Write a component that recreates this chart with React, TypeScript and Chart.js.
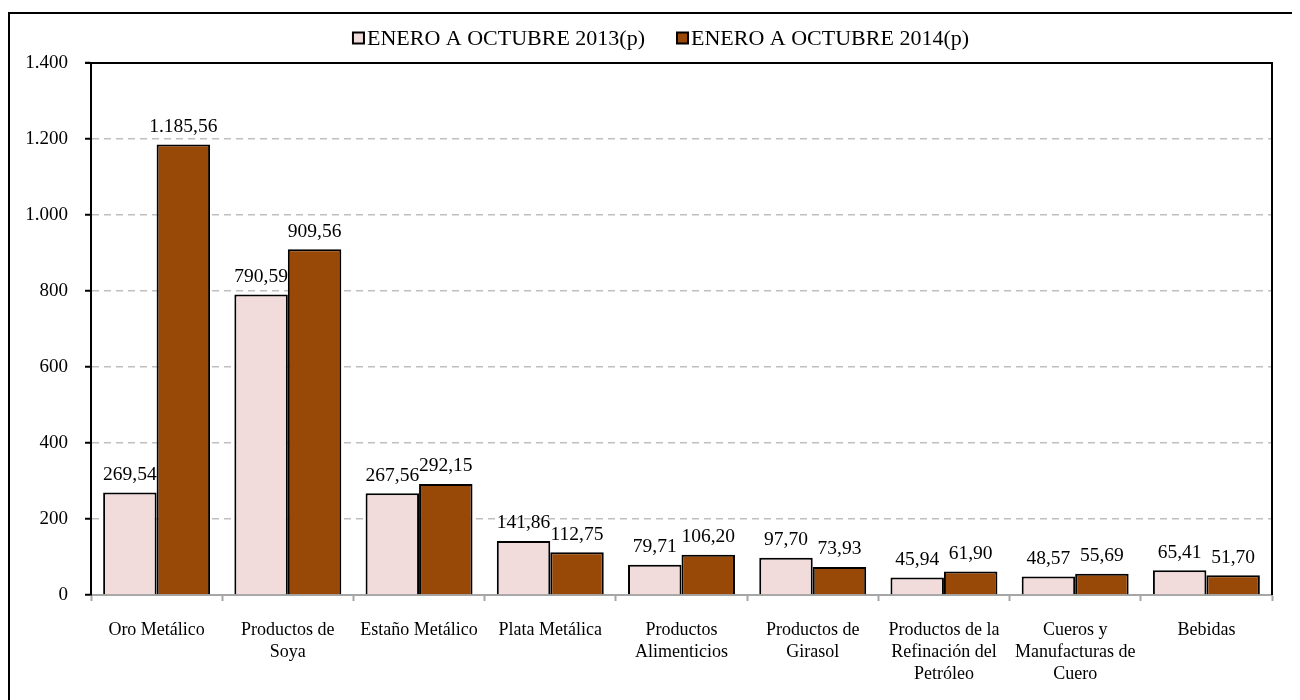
import React, { useEffect, useRef } from "react";
import { Chart, registerables } from "chart.js";

Chart.register(...registerables);

const categories: (string | string[])[] = [
  "Oro Metálico",
  ["Productos de", "Soya"],
  "Estaño Metálico",
  "Plata Metálica",
  ["Productos", "Alimenticios"],
  ["Productos de", "Girasol"],
  ["Productos de la", "Refinación del", "Petróleo"],
  ["Cueros y", "Manufacturas de", "Cuero"],
  "Bebidas",
];
const series2013Label = "ENERO A OCTUBRE 2013(p)";
const series2014Label = "ENERO A OCTUBRE 2014(p)";
const values2013 = [269.54, 790.59, 267.56, 141.86, 79.71, 97.7, 45.94, 48.57, 65.41];
const values2014 = [1185.56, 909.56, 292.15, 112.75, 106.2, 73.93, 61.9, 55.69, 51.7];
const yMax = 1400;
const yStep = 200;

const FONT = "'Liberation Serif', 'DejaVu Serif', serif";

function fmtThousands(intPart: string): string {
  return intPart.replace(/\B(?=(\d{3})+(?!\d))/g, ".");
}
function fmtValue(v: number): string {
  const [i, d] = v.toFixed(2).split(".");
  return fmtThousands(i) + "," + d;
}

const customPlugin = {
  id: "customDraw",
  afterDatasetsDraw(chart: any) {
    const ctx = chart.ctx;
    ctx.save();
    ctx.font = `19.5px ${FONT}`;
    ctx.fillStyle = "#000";
    ctx.textAlign = "center";
    ctx.textBaseline = "bottom";
    chart.data.datasets.forEach((ds: any, di: number) => {
      const meta = chart.getDatasetMeta(di);
      meta.data.forEach((bar: any, i: number) => {
        ctx.fillText(fmtValue(ds.data[i]), bar.x, bar.y - 8);
      });
    });
    ctx.restore();
  },
  afterDraw(chart: any) {
    const ctx = chart.ctx;
    const area = chart.chartArea;
    ctx.save();
    ctx.strokeStyle = "#000";
    ctx.lineWidth = 2;
    ctx.setLineDash([]);
    ctx.beginPath();
    ctx.moveTo(area.left - 6, area.top);
    ctx.lineTo(area.right, area.top);
    ctx.lineTo(area.right, area.bottom);
    ctx.stroke();
    // legend
    ctx.font = `22px ${FONT}`;
    ctx.textBaseline = "middle";
    ctx.textAlign = "left";
    const items = chart.data.datasets.map((d: any) => ({
      label: d.label,
      color: d.backgroundColor,
    }));
    const box = 11;
    const gapBoxText = 3;
    const gapItems = 32;
    const widths = items.map((it: any) => box + gapBoxText + ctx.measureText(it.label).width);
    const total = widths.reduce((a: number, b: number) => a + b, 0) + gapItems * (items.length - 1);
    const centerX = 651;
    const cy = 24;
    let x = centerX - total / 2;
    items.forEach((it: any, i: number) => {
      ctx.fillStyle = it.color;
      ctx.fillRect(x, cy - box / 2, box, box);
      ctx.strokeStyle = "#000";
      ctx.lineWidth = 2;
      ctx.strokeRect(x, cy - box / 2, box, box);
      ctx.fillStyle = "#000";
      ctx.fillText(it.label, x + box + gapBoxText, cy + 1);
      x += widths[i] + gapItems;
    });
    ctx.restore();
  },
};

export default function App() {
  const canvasRef = useRef<HTMLCanvasElement | null>(null);

  useEffect(() => {
    if (!canvasRef.current) return;
    document.body.style.overflow = "hidden";
    const chart = new Chart(canvasRef.current, {
      type: "bar",
      data: {
        labels: categories,
        datasets: [
          {
            label: series2013Label,
            data: values2013,
            backgroundColor: "#F2DCDB",
            borderColor: "#000",
            borderWidth: 2,
            categoryPercentage: 0.815,
            barPercentage: 1.0,
          },
          {
            label: series2014Label,
            data: values2014,
            backgroundColor: "#984807",
            borderColor: "#000",
            borderWidth: 2,
            categoryPercentage: 0.815,
            barPercentage: 1.0,
          },
        ],
      },
      options: {
        animation: false,
        responsive: false,
        maintainAspectRatio: false,
        layout: { padding: { top: 49, right: 20, left: 0, bottom: 0 } },
        plugins: {
          legend: { display: false },
          tooltip: { enabled: false },
        },
        scales: {
          x: {
            offset: true,
            grid: {
              offset: true,
              drawOnChartArea: false,
              drawTicks: true,
              tickLength: 6,
              tickColor: "#A6A6A6",
              tickWidth: 2,
            },
            border: { display: true, color: "#A6A6A6", width: 2 },
            ticks: {
              color: "#000",
              padding: 18,
              maxRotation: 0,
              autoSkip: false,
              font: { family: FONT, size: 18, lineHeight: 1.22 },
            },
            afterFit(scale: any) {
              scale.height = 99;
            },
          },
          y: {
            min: 0,
            max: yMax,
            ticks: {
              stepSize: yStep,
              color: "#000",
              padding: 17,
              font: { family: FONT, size: 19 },
              callback: (v: any) => fmtThousands(String(v)),
            },
            grid: {
              color: "#BFBFBF",
              lineWidth: 1.5,
              tickBorderDash: [],
              tickColor: "#000",
              tickLength: 6,
              tickWidth: 2,
              drawTicks: true,
            },
            border: { display: true, color: "#000", width: 2, dash: [7, 5] },
            afterFit(scale: any) {
              scale.width = 81;
            },
          },
        },
      },
      plugins: [customPlugin],
    });
    return () => chart.destroy();
  }, []);

  return (
    <div style={{ width: 1292, height: 692, overflow: "hidden", paddingTop: 4, boxSizing: "border-box" }}>
      <div style={{ width: 1320, height: 720, border: "2px solid #000", boxSizing: "border-box", background: "#fff" }}>
        <canvas ref={canvasRef} width={1282} height={680} style={{ display: "block" }} />
      </div>
    </div>
  );
}
